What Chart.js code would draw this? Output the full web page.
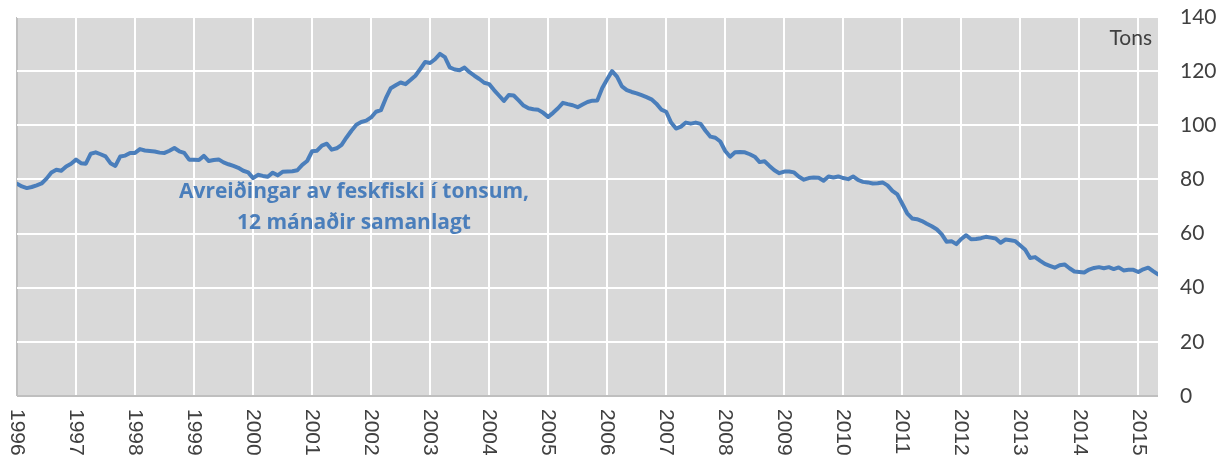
<!DOCTYPE html>
<html>
<head>
<meta charset="utf-8">
<script src="https://cdn.jsdelivr.net/npm/chart.js@4/dist/chart.umd.min.js"></script>
<style>
  body { margin: 0; background: #ffffff; }
  #chart { display: block; }
</style>
</head>
<body>
<canvas id="chart" width="1227" height="459"></canvas>
<script>
// ar-merki vid hvorja januar (x-asin gongur i manadum fra jan 1996)
const yearLabels = ['1996', '1997', '1998', '1999', '2000', '2001', '2002', '2003', '2004', '2005',
    '2006', '2007', '2008', '2009', '2010', '2011', '2012', '2013', '2014', '2015'];

// tons, 12 manadir samanlagt, jan 1996 - mai 2015 (lisid av myndini)
const tons1996 = [78.4, 77.4, 76.8, 77.2, 77.8, 78.5, 80.3, 82.6, 83.6, 83.2, 84.8, 85.8];
const tons1997 = [87.3, 86.0, 85.8, 89.5, 90.0, 89.3, 88.5, 86.0, 85.0, 88.5, 88.8, 89.8];
const tons1998 = [89.8, 91.2, 90.7, 90.5, 90.3, 89.9, 89.8, 90.6, 91.6, 90.4, 89.8, 87.3];
const tons1999 = [87.3, 87.2, 88.7, 86.8, 87.2, 87.4, 86.3, 85.6, 85.0, 84.3, 83.2, 82.6];
const tons2000 = [80.5, 81.7, 81.3, 81.0, 82.5, 81.5, 82.8, 82.9, 83.0, 83.4, 85.4, 86.8];
const tons2001 = [90.4, 90.6, 92.5, 93.2, 91.0, 91.5, 92.8, 95.5, 98.0, 100.2, 101.2, 101.7];
const tons2002 = [102.9, 105.0, 105.6, 110.0, 113.7, 114.8, 115.8, 115.2, 116.7, 118.3, 120.8, 123.4];
const tons2003 = [123.0, 124.4, 126.4, 125.2, 121.4, 120.6, 120.3, 121.3, 119.6, 118.3, 117.1, 115.7];
const tons2004 = [115.2, 113.0, 111.0, 109.0, 111.2, 111.0, 109.2, 107.3, 106.3, 105.9, 105.7, 104.6];
const tons2005 = [103.1, 104.6, 106.3, 108.3, 107.8, 107.4, 106.7, 107.7, 108.6, 109.1, 109.2, 113.8];
const tons2006 = [117.0, 120.0, 118.0, 114.4, 113.0, 112.3, 111.8, 111.1, 110.4, 109.6, 108.0, 105.8];
const tons2007 = [105.0, 101.0, 98.8, 99.5, 101.0, 100.6, 101.0, 100.5, 98.0, 95.8, 95.4, 94.0];
const tons2008 = [90.5, 88.4, 90.0, 90.1, 90.0, 89.3, 88.4, 86.4, 86.7, 85.0, 83.4, 82.3];
const tons2009 = [82.9, 82.9, 82.6, 81.0, 79.9, 80.5, 80.7, 80.6, 79.5, 81.1, 80.7, 81.1];
const tons2010 = [80.5, 80.1, 81.1, 79.8, 79.1, 78.9, 78.5, 78.6, 78.9, 77.8, 75.8, 74.5];
const tons2011 = [71.0, 67.5, 65.6, 65.3, 64.6, 63.6, 62.7, 61.6, 59.8, 57.0, 57.2, 56.1];
const tons2012 = [58.0, 59.4, 57.9, 58.0, 58.3, 58.8, 58.5, 58.2, 56.6, 57.8, 57.5, 57.2];
const tons2013 = [55.6, 54.0, 51.0, 51.3, 50.0, 48.8, 48.1, 47.4, 48.3, 48.6, 47.2, 46.0];
const tons2014 = [45.8, 45.6, 46.7, 47.3, 47.6, 47.2, 47.6, 46.9, 47.5, 46.4, 46.6, 46.6];
const tons2015 = [45.8, 46.8, 47.4, 46.1, 44.9];

const tonsValues = [].concat(tons1996, tons1997, tons1998, tons1999, tons2000, tons2001, tons2002,
    tons2003, tons2004, tons2005, tons2006, tons2007, tons2008, tons2009, tons2010, tons2011,
    tons2012, tons2013, tons2014, tons2015);

const titleLines = ['Avreiðingar av feskfiski í tonsum,', '12 mánaðir samanlagt'];
const unitLabel = 'Tons';

const lineBlue = '#4a7ebb';
const textGray = '#404040';

// gra bakgrund aftan fyri sjalva grafin
const plotBackground = {
    id: 'plotBackground',
    beforeDraw(chart) {
        const { ctx, chartArea } = chart;
        ctx.save();
        ctx.fillStyle = '#d9d9d9';
        ctx.fillRect(chartArea.left, chartArea.top, chartArea.width, chartArea.height);
        ctx.restore();
    }
};

// tekstur: ar-merkini (snuin), "Tons" og heitid
const chartTexts = {
    id: 'chartTexts',
    afterDraw(chart) {
        const { ctx, chartArea } = chart;
        const xScale = chart.scales.x;
        ctx.save();

        // ar-merkini, lisin ovast og niður
        ctx.fillStyle = textGray;
        ctx.font = '21px "Liberation Sans", Arial, sans-serif';
        ctx.textAlign = 'left';
        ctx.textBaseline = 'middle';
        yearLabels.forEach((label, i) => {
            const x = xScale.getPixelForValue(i * 12);
            ctx.save();
            ctx.translate(x, chartArea.bottom + 13);
            ctx.rotate(Math.PI / 2);
            ctx.fillText(label, 0, 0);
            ctx.restore();
        });

        // eind
        ctx.font = '21px Lato, sans-serif';
        ctx.textAlign = 'right';
        ctx.textBaseline = 'alphabetic';
        ctx.fillText(unitLabel, chartArea.right - 6, chartArea.top + 28);

        // heiti
        ctx.fillStyle = lineBlue;
        ctx.font = 'bold 21px "Open Sans", sans-serif';
        ctx.textAlign = 'center';
        ctx.fillText(titleLines[0], 354, 198);
        ctx.fillText(titleLines[1], 354, 229);

        ctx.restore();
    }
};

function makeLineChart() {
    const ctx = document.getElementById('chart').getContext('2d');
    const points = tonsValues.map((v, i) => ({ x: i, y: v }));

    const myChart = new Chart(ctx, {
        type: 'line',
        data: {
            datasets: [{
                data: points,
                borderColor: lineBlue,
                borderWidth: 4,
                borderJoinStyle: 'round',
                borderCapStyle: 'round',
                pointRadius: 0,
                tension: 0,
                fill: false
            }]
        },
        options: {
            responsive: false,
            animation: false,
            devicePixelRatio: 1,
            layout: { padding: { top: 0, left: 17, right: 0, bottom: 0 } },
            plugins: {
                legend: { display: false },
                tooltip: { enabled: false }
            },
            scales: {
                x: {
                    type: 'linear',
                    min: 0,
                    max: tonsValues.length - 1,
                    border: { display: false },
                    grid: {
                        drawTicks: false,
                        lineWidth: 2,
                        color: (c) => (c.tick && c.tick.value === 0 ? '#bfbfbf' : '#ffffff')
                    },
                    ticks: {
                        display: false,
                        stepSize: 12,
                        includeBounds: false
                    },
                    afterFit(scale) { scale.height = 63; }
                },
                y: {
                    position: 'right',
                    min: 0,
                    max: 140,
                    border: { display: false },
                    grid: {
                        drawTicks: false,
                        lineWidth: 2,
                        color: (c) => (c.tick && c.tick.value === 0 ? '#bfbfbf' : '#ffffff')
                    },
                    ticks: {
                        stepSize: 20,
                        padding: 22,
                        color: textGray,
                        font: { family: 'Lato, sans-serif', size: 21 }
                    },
                    afterFit(scale) {
                        scale.width = 69;
                        // tick-padding skal ikki skubba grafin niður
                        scale.paddingTop = 17;
                        scale.paddingBottom = 0;
                    }
                }
            }
        },
        plugins: [plotBackground, chartTexts]
    });

    myChart.render();
}

makeLineChart();
</script>
</body>
</html>
